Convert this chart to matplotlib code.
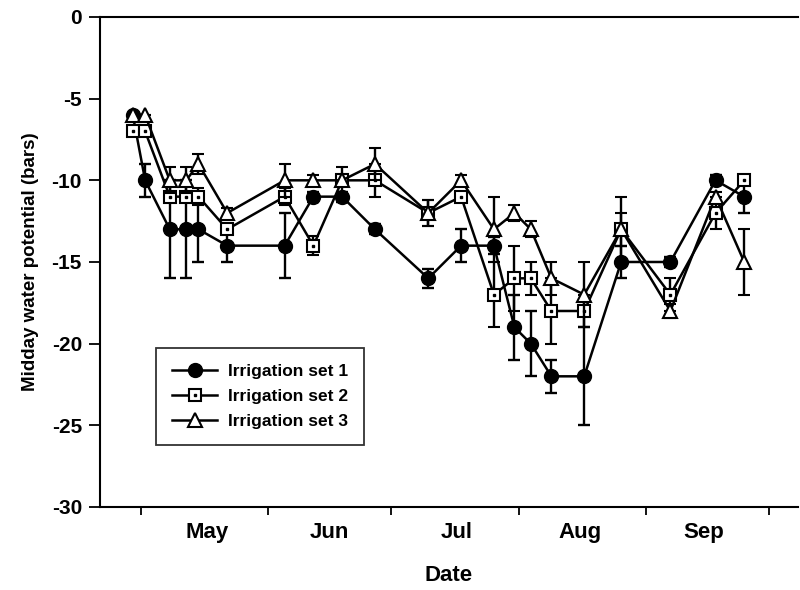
import matplotlib
matplotlib.use('Agg')
import matplotlib.pyplot as plt
import pandas as pd

plt.rcParams['font.family'] = ['Liberation Sans', 'DejaVu Sans']
plt.rcParams['font.weight'] = 'bold'
plt.rcParams['axes.labelweight'] = 'bold'
plt.rcParams['axes.unicode_minus'] = False

# sampling dates (year is arbitrary, only month/day are shown)
dates = ['1999-04-29', '1999-05-02', '1999-05-08', '1999-05-12', '1999-05-15', '1999-05-22',
         '1999-06-05', '1999-06-12', '1999-06-19', '1999-06-27', '1999-07-10', '1999-07-18',
         '1999-07-26', '1999-07-31', '1999-08-04', '1999-08-09', '1999-08-17', '1999-08-26',
         '1999-09-07', '1999-09-18', '1999-09-25']

set1 = [-6, -10, -13, -13, -13, -14, -14, -11, -11, -13, -16, -14, -14, -19, -20, -22, -22, -15, -15, -10, -11]
set1_err = [0, 1, 3, 3, 2, 1, 2, 0.3, 0.3, 0.3, 0.6, 1, 0.5, 2, 2, 1, 3, 1, 0.3, 0.3, 1]

set2 = [-7, -7, -11, -11, -11, -13, -11, -14, -10, -10, -12, -11, -17, -16, -16, -18, -18, -13, -17, -12, -10]
set2_err = [0, 0, 0.3, 0.3, 0.5, 0.3, 0.5, 0.6, 0.3, 1, 0.8, 0.3, 2, 2, 1, 2, 1, 1, 1, 1, 0.3]

set3 = [-6, -6, -10, -10, -9, -12, -10, -10, -10, -9, -12, -10, -13, -12, -13, -16, -17, -13, -18, -11, -15]
set3_err = [0, 0, 0.8, 0.8, 0.6, 0.3, 1, 0.3, 0.8, 1, 0.8, 0.3, 2, 0.5, 0.5, 1, 2, 2, 0.4, 0.3, 2]

labels = ['Irrigation set 1', 'Irrigation set 2', 'Irrigation set 3']
month_ticks = ['1999-05-01', '1999-06-01', '1999-07-01', '1999-08-01', '1999-09-01', '1999-10-01']
month_label_pos = ['1999-05-17', '1999-06-16', '1999-07-17', '1999-08-16', '1999-09-15']
month_names = ['May', 'Jun', 'Jul', 'Aug', 'Sep']

x = pd.to_datetime(dates)

fig = plt.figure(figsize=(8, 5.9), dpi=100)
ax = fig.add_axes([0.125, 0.1407, 0.872, 0.8305])

common = dict(color='black', lw=1.8, elinewidth=1.7, capsize=4.5, capthick=1.7)

e1 = ax.errorbar(x, set1, yerr=set1_err, marker='o', ms=10, mfc='black', mec='black',
                 zorder=3, **common)
e2 = ax.errorbar(x, set2, yerr=set2_err, marker='s', ms=8.5, mfc='white', mec='black', mew=1.5,
                 zorder=4, **common)
# dot in the middle of the open squares
dots, = ax.plot(x, set2, ls='none', marker='s', ms=1.8, color='black', zorder=4.5)
e3 = ax.errorbar(x, set3, yerr=set3_err, marker='^', ms=10, mfc='white', mec='black', mew=1.5,
                 zorder=5, **common)

ax.set_ylim(-30, 0)
ax.set_yticks(range(-30, 1, 5))
ax.set_xlim(pd.Timestamp('1999-04-21'), pd.Timestamp('1999-10-08'))

ax.set_xticks(pd.to_datetime(month_ticks))
ax.set_xticklabels([])
ax.set_xticks(pd.to_datetime(month_label_pos), minor=True)
ax.set_xticklabels(month_names, minor=True)
ax.tick_params(axis='x', which='major', direction='out', length=6, width=1.3)
ax.tick_params(axis='x', which='minor', length=0, pad=11, labelsize=16)
ax.tick_params(axis='y', direction='out', length=8, width=1.3, labelsize=15, pad=5)

ax.spines['right'].set_visible(False)
for s in ['left', 'bottom', 'top']:
    ax.spines[s].set_linewidth(1.5)

ax.set_xlabel('Date', fontsize=16, labelpad=16)
ax.set_ylabel('Midday water potential (bars)', fontsize=13.5, labelpad=9)

leg = ax.legend([e1[0], (e2[0], dots), e3[0]], labels, loc='upper left',
                bbox_to_anchor=(0.08, 0.325), borderaxespad=0, fontsize=12.5, frameon=True,
                fancybox=False, edgecolor='black', handlelength=2.6, labelspacing=0.55,
                borderpad=0.95, handletextpad=0.6)
leg.get_frame().set_linewidth(1.3)

fig.savefig('out.png', dpi=100)
